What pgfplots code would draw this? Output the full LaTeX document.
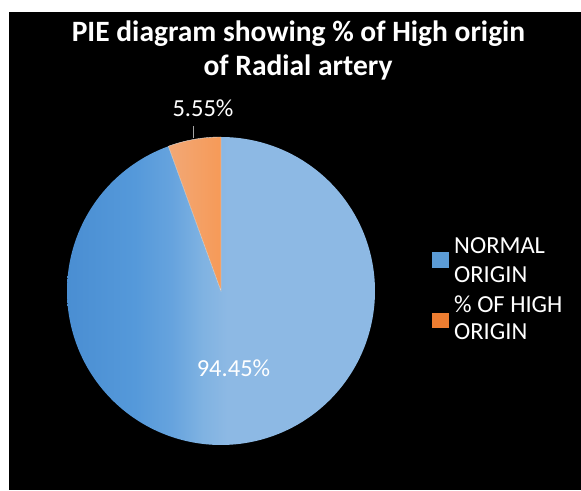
\documentclass[border=0pt]{standalone}
\usepackage{fontspec}
\setmainfont{Carlito}
\usepackage{pgfplots}
\usepackage{pgfplotstable}
\pgfplotsset{compat=1.18}
\definecolor{orA}{RGB}{242,168,118}
\definecolor{orB}{RGB}{246,154,88}
\definecolor{legblue}{RGB}{91,155,213}
\definecolor{legorange}{RGB}{237,125,49}
\pgfdeclarehorizontalshading{pieblue}{100bp}{rgb(0bp)=(0.29,0.557,0.824); rgb(25bp)=(0.29,0.557,0.824); rgb(36bp)=(0.333,0.6,0.855); rgb(42bp)=(0.40,0.64,0.87); rgb(47bp)=(0.50,0.70,0.885); rgb(51bp)=(0.553,0.725,0.894); rgb(100bp)=(0.553,0.725,0.894)}
\pgfplotstableread{
label value
Normal 94.45
High 5.55
}\piedata
\begin{document}
\begin{tikzpicture}
\pgfplotstablegetelem{0}{value}\of\piedata
\let\va\pgfplotsretval
\pgfplotstablegetelem{1}{value}\of\piedata
\let\vb\pgfplotsretval
\pgfmathsetmacro\angA{90-3.6*\va}
\pgfmathsetmacro\angB{90+3.6*\vb}
\begin{axis}[hide axis, scale only axis, width=581pt, height=490pt,
  xmin=0, xmax=581, ymin=0, ymax=490, clip=false]
\fill[white] (axis cs:0,0) rectangle (axis cs:581,490);
\fill[black] (axis cs:9,0) rectangle (axis cs:581,478);
% pie slices
\addplot[draw=none, shade, shading=pieblue, domain=\angA:90, samples=300, variable=\t]
  ({221+154*cos(\t)},{199+154*sin(\t)}) -- (axis cs:221,199) -- cycle;
\addplot[draw=white!75!gray, line width=0.4pt, left color=orA, right color=orB, domain=90:\angB, samples=40, variable=\t]
  ({221+154*cos(\t)},{199+154*sin(\t)}) -- (axis cs:221,199) -- cycle;
% title
\node[anchor=base, text=white, font=\fontsize{29.5}{34}\selectfont\bfseries, inner sep=0pt] at (axis cs:298.5,448) {PIE diagram showing \% of High origin};
\node[anchor=base, text=white, font=\fontsize{29.5}{34}\selectfont\bfseries, inner sep=0pt] at (axis cs:298,414) {of Radial artery};
% data labels
\draw[gray!70, line width=0.8pt] (axis cs:193,364) -- (axis cs:193,352);
\node[anchor=base, text=white, font=\fontsize{24.5}{29}\selectfont, inner sep=0pt] at (axis cs:203,373) {5.55\%};
\node[anchor=base, text=white, font=\fontsize{24.5}{29}\selectfont, inner sep=0pt] at (axis cs:233.5,113) {94.45\%};
% legend
\fill[legblue] (axis cs:432,222) rectangle (axis cs:449,238);
\fill[legorange] (axis cs:432,162) rectangle (axis cs:449,177);
\node[anchor=base west, text=white, font=\fontsize{24.5}{29}\selectfont, inner sep=0pt] at (axis cs:454,236) {NORMAL};
\node[anchor=base west, text=white, font=\fontsize{24.5}{29}\selectfont, inner sep=0pt] at (axis cs:454,207) {ORIGIN};
\node[anchor=base west, text=white, font=\fontsize{24.5}{29}\selectfont, inner sep=0pt] at (axis cs:454,177) {\% OF HIGH};
\node[anchor=base west, text=white, font=\fontsize{24.5}{29}\selectfont, inner sep=0pt] at (axis cs:454,150) {ORIGIN};
\end{axis}
\end{tikzpicture}
\end{document}
